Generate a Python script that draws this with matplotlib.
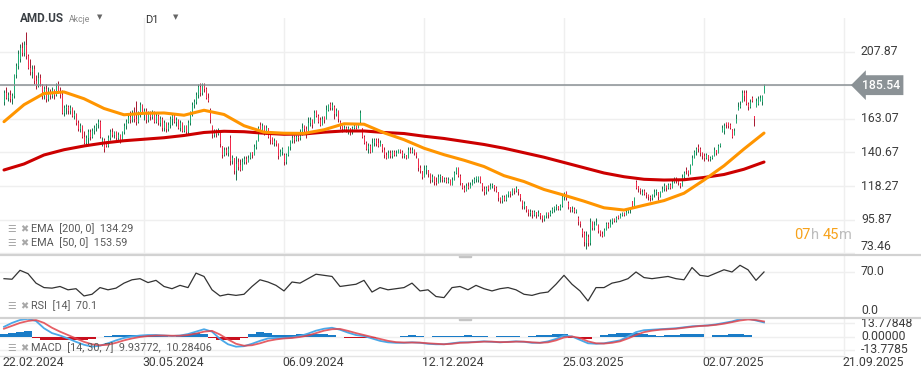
import matplotlib
matplotlib.use('Agg')
import matplotlib.pyplot as plt
import numpy as np
from matplotlib import transforms
from matplotlib.patches import Rectangle
from matplotlib.lines import Line2D

plt.rcParams['font.family'] = ['Roboto', 'DejaVu Sans']

# ---- daily candles (bar index 0 = 22.02.2024) ----
opens = [174,180,177,179,176,178,192,198,203,210,
         207,212,205,197,194,196,188,185,190,186,
         178,183,176,181,178,182,179,185,181,179,
         167,170,171,168,170,165,166,160,156,158,
         151,147,150,154,151,155,157,159,161,147,
         149,146,145,150,154,152,154,150,152,149,
         154,158,161,164,162,166,163,161,166,172,
         167,168,162,166,164,167,161,165,160,163,
         157,160,156,159,163,165,161,162,157,160,
         155,158,154,160,166,172,174,179,184,180,
         185,183,177,169,158,152,155,153,154,145,
         139,142,140,150,135,137,128,134,132,129,
         134,136,134,137,141,139,144,148,159,155,
         158,155,157,152,150,147,148,146,138,141,
         139,134,139,144,148,151,149,151,150,154,
         158,156,155,160,162,160,168,165,162,159,
         164,163,169,173,170,171,166,168,161,158,
         156,157,155,157,154,157,158,157,161,157,
         151,147,143,145,141,147,149,147,145,146,
         142,139,137,140,138,141,139,140,142,141,
         138,139,137,142,141,142,140,136,130,128,
         124,129,129,126,122,124,121,120,124,125,
         122,123,121,122,119,122,127,130,125,120,
         117,115,118,117,119,121,123,122,124,120,
         116,114,118,116,118,119,117,114,110,108,
         111,109,112,114,113,116,115,116,113,108,
         104,105,102,100,101,99,101,99,100,98,
         96,98,100,99,101,103,104,105,103,105,
         111,114,107,104,102,103,101,97,94,89,
         87,80,84,80,94,90,92,92,88,86,
         85,89,93,91,94,96,95,98,97,99,
         100,99,101,102,108,105,121,118,116,113,
         115,113,112,111,110,112,114,114,111,114,
         116,118,117,119,117,121,123,122,120,118,
         124,129,128,126,132,137,141,144,143,140,
         138,137,139,136,137,138,142,140,145,154,
         155,160,160,159,156,152,160,169,171,174,
         180,180,173,171,177,165,171,173,175,174,
         180]
highs = [182,184,181,182,180,193,200,209,213,214,
         215,221,206,203,199,199,192,194,193,186,
         185,186,184,183,184,183,187,188,184,182,
         172,173,172,172,171,169,167,162,160,159,
         155,152,156,156,157,159,160,163,162,151,
         150,148,152,156,157,155,155,154,153,155,
         160,163,166,168,169,171,175,168,174,173,
         170,170,168,168,169,168,167,166,165,164,
         162,161,161,165,166,166,164,163,162,161,
         159,159,162,168,174,176,181,186,187,187,
         187,184,180,170,159,156,156,157,154,145,
         144,144,145,152,139,137,138,137,136,137,
         138,138,139,141,141,146,149,158,161,160,
         159,159,157,153,151,150,149,147,143,144,
         140,140,145,149,152,152,152,152,156,160,
         159,158,164,164,163,169,169,166,164,165,
         165,172,173,174,174,172,170,169,162,159,
         159,158,158,157,158,160,159,160,169,157,
         152,148,147,146,150,150,150,150,149,146,
         144,141,142,142,142,142,142,143,143,142,
         140,139,144,144,144,143,141,137,132,128,
         132,132,129,127,126,125,124,126,126,125,
         124,124,124,123,124,128,131,131,126,120,
         119,120,121,121,123,124,125,125,125,120,
         118,118,119,120,120,119,118,114,111,112,
         112,113,115,115,117,117,118,116,113,109,
         108,105,103,103,102,102,101,102,100,99,
         99,101,101,102,104,105,106,105,106,113,
         114,115,108,104,105,104,103,98,95,90,
         88,88,86,97,95,95,97,93,89,88,
         90,94,94,96,97,97,98,99,100,101,
         101,103,103,103,108,111,122,118,117,116,
         116,114,113,112,113,116,116,114,115,118,
         120,119,120,120,123,124,124,122,120,126,
         128,131,129,133,139,142,144,146,144,141,
         140,140,139,138,139,144,142,146,147,159,
         160,161,161,160,156,157,166,174,175,182,
         182,182,174,176,178,165,177,178,179,179,
         186]
lows = [172,176,175,174,173,177,190,196,201,205,
        205,203,196,192,190,186,183,184,185,176,
        176,174,175,176,177,176,178,180,177,166,
        165,166,166,166,164,163,159,155,154,150,
        146,145,146,149,150,153,155,157,150,145,
        141,144,144,149,151,150,149,148,147,148,
        153,156,160,160,161,161,159,160,164,166,
        162,160,161,162,163,160,160,159,158,155,
        155,154,155,157,159,160,158,156,155,154,
        154,153,153,159,165,170,173,177,178,179,
        181,176,174,160,150,151,151,152,144,137,
        138,139,138,132,133,126,122,129,128,129,
        133,133,134,136,137,139,143,148,154,154,
        152,153,150,146,146,145,145,136,138,139,
        132,133,138,142,147,147,148,148,149,152,
        153,150,155,158,157,160,164,160,158,159,
        160,163,168,169,169,163,165,161,156,154,
        155,154,153,152,153,156,156,157,160,150,
        146,142,140,140,141,145,145,144,145,141,
        137,136,137,137,137,138,138,140,140,137,
        137,136,137,140,140,139,137,128,127,123,
        124,126,124,120,121,119,119,120,121,121,
        121,120,120,119,119,122,126,124,119,116,
        114,115,116,117,119,120,121,121,120,115,
        112,113,115,116,117,115,114,108,107,107,
        108,108,111,111,112,113,114,112,108,103,
        103,101,98,98,97,98,97,98,96,94,
        95,97,97,98,100,101,102,102,102,104,
        109,109,103,101,101,100,100,92,91,84,
        78,76,78,79,89,89,92,87,85,84,
        85,89,90,91,93,94,94,96,97,98,
        98,99,100,100,104,104,116,114,113,112,
        112,110,109,108,109,111,112,109,111,114,
        115,115,116,116,117,120,120,119,117,118,
        123,126,125,126,132,137,139,141,138,136,
        135,136,135,135,136,138,139,140,144,154,
        153,157,157,156,150,152,160,169,170,174,
        175,172,169,170,174,158,171,172,175,172,
        180]
closes = [180,177,179,176,178,192,198,206,210,207,
          212,205,197,194,196,188,185,190,186,178,
          183,176,181,178,182,179,185,181,179,167,
          170,171,168,170,165,166,160,156,158,151,
          147,150,154,151,155,157,159,161,151,149,
          143,145,150,154,152,154,150,152,149,154,
          158,161,164,162,166,163,161,166,172,167,
          168,162,166,164,167,161,165,160,163,157,
          160,156,159,163,165,161,162,157,160,155,
          158,154,160,166,172,174,179,184,180,185,
          183,177,175,162,152,155,153,155,146,139,
          142,140,143,135,137,128,133,131,129,134,
          136,134,137,140,139,144,148,157,155,158,
          155,157,151,149,147,148,146,138,141,143,
          134,139,144,148,150,149,151,150,154,157,
          156,153,160,162,159,167,165,161,159,163,
          162,169,172,170,172,166,168,163,158,156,
          157,155,157,154,157,158,157,159,167,151,
          147,143,145,141,147,149,146,145,147,142,
          139,137,140,138,141,139,140,142,141,138,
          139,137,142,141,142,140,138,130,128,124,
          129,131,126,122,124,121,120,124,125,122,
          123,121,122,119,122,127,130,125,120,117,
          115,118,117,119,121,123,124,124,121,116,
          114,117,116,118,119,117,115,110,108,111,
          109,112,114,113,116,115,117,114,110,105,
          106,102,100,101,99,101,99,100,98,96,
          98,100,99,101,103,104,105,103,105,111,
          112,110,104,102,103,101,102,94,93,86,
          81,85,80,94,90,92,94,88,86,85,
          89,93,91,94,96,95,97,97,99,100,
          99,101,102,103,105,110,117,116,115,114,
          113,112,111,110,112,114,115,111,114,116,
          118,117,119,117,121,123,122,120,118,124,
          127,128,126,132,137,141,143,143,140,138,
          137,139,136,137,138,142,140,145,146,157,
          158,159,158,157,151,155,163,171,172,180,
          178,173,171,174,175,163,175,176,177,178,
          185.54]

# EMA lines, every 10 bars
ema200 = [129.0,133.0,139.0,142.5,145.0,147.0,148.5,149.5,150.5,152.0,
          154.0,154.8,154.5,153.5,152.8,153.0,154.2,155.0,155.0,154.0,
          153.3,151.5,150.0,148.0,146.0,143.5,140.5,137.5,134.0,130.5,
          127.0,124.5,122.8,122.3,122.5,124.0,126.0,129.5,134.3]
ema50 = [161.2,172.5,180.0,181.0,176.5,170.0,165.8,166.8,167.0,165.5,
         168.8,166.0,158.5,154.2,153.5,153.4,155.8,159.8,159.5,153.8,
         149.2,143.5,139.2,135.5,131.3,125.2,121.3,116.0,112.2,108.2,
         103.8,102.3,105.5,108.6,113.5,122.3,131.8,143.0,153.6]

# RSI, every 4 bars
rsi = [58,57,73,67,50,42,41,44,38,40,
       27,30,42,38,41,50,56,58,51,55,
       44,40,46,42,68,62,38,27,30,28,
       30,44,56,52,46,36,52,50,58,66,
       64,62,44,46,48,55,34,42,38,40,
       42,50,36,38,26,24,42,44,38,46,
       40,36,40,42,38,30,28,32,34,48,
       64,48,36,18,42,42,50,53,58,70,
       60,58,60,62,58,56,78,64,62,68,
       74,70,82,74,55,70]

# MACD, every 4 bars
macd = [10,14,17,18.2,16,8.5,3.5,1,-2,-5.5,
        -8.5,-10.5,-9.5,-7,-4,-1.5,0,1,1.5,1.5,
        1,0.5,1,2.5,5,7.5,5,-2.5,-8,-10.5,
        -10,-7.5,-4.5,-2,-1.5,-1.5,-1,0.5,3,6,
        8,9,7,4,1.5,0.5,-2,-4.5,-6,-6.5,
        -6.5,-6,-6.5,-7.5,-8,-8,-7,-6,-6,-5.5,
        -5,-5.5,-6,-5.5,-5,-5.5,-6.5,-6.5,-5,-2.5,
        1,0,-3.5,-7,-7.5,-7,-5.5,-4,0,4.5,
        6.5,7,7.5,8,8.5,9.5,10.5,11,11.5,12.5,
        14,15.5,18,18.5,16.5,14.5]
signal = [8,11,14,16,17,14,9,5,1.5,-2,
          -5.5,-8,-9,-8.5,-6.5,-4,-2,-0.5,0.5,1,
          1,0.8,0.8,1.5,3,5,5.8,2,-3,-7.5,
          -9.5,-9,-7,-4.5,-3,-2,-1.5,-0.5,1,3.5,
          6,7.5,7.8,5.8,3.5,1.5,-0.5,-2.5,-4.5,-5.8,
          -6.2,-6.2,-6.3,-7,-7.5,-8,-7.5,-6.5,-6.2,-5.8,
          -5.3,-5.3,-5.8,-5.7,-5.3,-5.3,-6,-6.5,-6,-4,
          -1,0,-1.5,-5,-7,-7.3,-6.5,-5,-2,1.5,
          4.5,6,7,7.5,8,9,10,10.8,11.2,12,
          13.2,14.8,16.5,17.5,17,15.5]
hist = [3,4,5,5.5,-2,-3.5,-3.8,-3.8,-3.5,-3.5,
        -3.2,-2.5,-1,0.8,1.2,1.5,1.5,1.2,1.2,1.5,
        1.2,-0.5,1.8,2.5,3.2,3,-1.5,-3.8,-4,-3.5,
        -2,2.5,4.5,3.5,2,1.5,2,2.2,2.5,3,
        2.5,1.8,-1,-2,-2,-1.5,-1.8,-1,-0.5,-0.3,
        0.8,1.5,0.6,-0.4,1,1,0.5,0.6,1.2,0.5,
        0.8,-0.3,0.6,1,0.5,-0.4,0.5,1.2,2,2.8,
        2.5,-1.5,-3,-3,-1,1.5,3,3.5,3.5,3.5,
        3,2,1,1.5,2,2.2,3,3,-0.8,1.5,
        1.5,2.2,2.5,1.5,-1,-1]

date_labels = ['22.02.2024', '30.05.2024', '06.09.2024', '12.12.2024',
               '25.03.2025', '02.07.2025', '21.09.2025']
date_bars = [0, 70, 140, 210, 280, 350, 420]
price_ticks = [207.87, 185.47, 163.07, 140.67, 118.27, 95.87, 73.46]
price_labels = ['207.87', '', '163.07', '140.67', '118.27', '95.87', '73.46']
last_price = 185.54

W, H = 921, 380
fig = plt.figure(figsize=(W / 100, H / 100), dpi=100)

def px_axes(x0, y0, x1, y1):
    ax = fig.add_axes([x0 / W, 1 - y1 / H, (x1 - x0) / W, (y1 - y0) / H])
    ax.set_axis_off()
    ax.set_xlim(-2, 425.5)
    return ax

GRID = '#efefef'
TXT = '#3c3c3c'
FS = 8.8

ax = px_axes(0, 18, 855, 254)
ax_rsi = px_axes(0, 255, 855, 317)
ax_macd = px_axes(0, 318, 855, 355)
ax.set_ylim(73.0, 230.3)
ax_rsi.set_ylim(-10.8, 100.5)
ax_macd.set_ylim(-19.07, 19.07)

for a in (ax, ax_rsi, ax_macd):
    for b in date_bars[1:]:
        a.axvline(b, color=GRID, lw=1, zorder=0)

# price panel
for t, lab in zip(price_ticks, price_labels):
    ax.axhline(t, color=GRID, lw=1, zorder=0)
    if lab:
        ax.text(1.007, t, lab, transform=ax.get_yaxis_transform(), fontsize=FS,
                color=TXT, va='bottom' if t < 80 else 'center', ha='left')

O = np.array(opens, float); Hh = np.array(highs, float)
L = np.array(lows, float); C = np.array(closes, float)
xb = np.arange(len(C))
up = C >= O
wick_c = np.where(up, '#14724d', '#a5172f')
body_c = np.where(up, '#1fab72', '#f2294a')
ax.vlines(xb, L, Hh, colors=wick_c, lw=0.7, zorder=2)
body = np.where(np.abs(C - O) < 0.6, 0.6, C - O)
ax.bar(xb, body, bottom=O, width=0.5, color=body_c, lw=0, zorder=3)

ema_x = np.arange(len(ema50)) * 10
ax.plot(ema_x, ema200, color='#cc0000', lw=2.2, zorder=4, solid_capstyle='round')
ax.plot(ema_x, ema50, color='#ff9500', lw=2.2, zorder=5, solid_capstyle='round')

ax.axhline(last_price, color='#8a9094', lw=1.1, zorder=6)
ax.text(1.008, last_price, '185.54', transform=ax.get_yaxis_transform(), fontsize=FS,
        color='white', va='center', ha='left', fontweight='medium',
        bbox=dict(boxstyle='larrow,pad=0.28', fc='#8b9296', ec='none'))

# countdown
tf = fig.transFigure
for xp, s, c in [(794, '07', '#f7a21b'), (811, 'h', '#bdbdbd'),
                 (823, '45', '#f7a21b'), (839, 'm', '#bdbdbd')]:
    fig.text(xp / W, 1 - 235 / H, s, fontsize=10.5, color=c, va='center', ha='left')

# RSI panel
ax_rsi.axhline(70, color=GRID, lw=1, zorder=0)
rsi_x = np.arange(len(rsi)) * 4
ax_rsi.plot(rsi_x, rsi, color='#333333', lw=0.9)
for v, lab in [(70, '70.0'), (0, '0.0')]:
    ax_rsi.text(1.007, v, lab, transform=ax_rsi.get_yaxis_transform(), fontsize=FS,
                color=TXT, va='center', ha='left')

# MACD panel
for v in (13.77848, 0, -13.77848):
    ax_macd.axhline(v, color=GRID, lw=1, zorder=0)
mx = np.arange(len(macd)) * 4
hv = np.array(hist)
ax_macd.bar(mx, hv, width=4, color=np.where(hv >= 0, '#1a7cc7', '#c80f1e'), lw=0, zorder=2)
ax_macd.plot(mx, macd, color='#4aa8e8', lw=1.3, zorder=3)
ax_macd.plot(mx, signal, color='#e2434b', lw=1.3, alpha=0.85, zorder=4)
for v, lab in [(13.77848, '13.77848'), (0, '0.00000'), (-13.77848, '-13.7785')]:
    ax_macd.text(1.007, v, lab, transform=ax_macd.get_yaxis_transform(), fontsize=FS,
                 color=TXT, va='center', ha='left')

# date labels
bt = transforms.blended_transform_factory(ax_macd.transData, fig.transFigure)
for b, lab in zip(date_bars, date_labels):
    ax_macd.text(b - 0.8, 1 - 362 / H, lab, transform=bt, fontsize=FS, color=TXT,
                 va='center', ha='left')

# separators
for yp in (254.5, 317.5):
    fig.add_artist(Line2D([0, 1], [1 - yp / H] * 2, transform=tf, color='#d2d2d2', lw=1.6))
    fig.add_artist(Rectangle((459 / W, 1 - (yp + 2.5) / H), 12 / W, 2.5 / H,
                             transform=tf, color='#c4c4c4'))
fig.add_artist(Line2D([0, 845 / W], [1 - 355.5 / H] * 2, transform=tf, color='#e4e4e4', lw=1))

# indicator captions
def caption(yp, s):
    fig.text(7 / W, 1 - yp / H, '\u2630', fontsize=7, color='#a8a8a8', va='center',
             family=['DejaVu Sans'])
    fig.text(20 / W, 1 - yp / H, '\u2716', fontsize=7, color='#a8a8a8', va='center',
             family=['DejaVu Sans'])
    fig.text(31 / W, 1 - yp / H, s, fontsize=7.8, color='#5a5a5a', va='center')

caption(229, 'EMA  [200, 0]  134.29')
caption(243, 'EMA  [50, 0]  153.59')
caption(306, 'RSI  [14]  70.1')
caption(348, 'MACD  [14, 30, 7]  9.93772,  10.28406')

# header
fig.text(20 / W, 1 - 18 / H, 'AMD.US', fontsize=8.5, fontweight='bold', color='#3a3f44', va='center')
fig.text(69 / W, 1 - 19 / H, 'Akcje', fontsize=6.3, color='#8a8a8a', va='center')
fig.text(97 / W, 1 - 17 / H, '\u25bc', fontsize=5, color='#666666', va='center', family=['DejaVu Sans'])
fig.text(145 / W, 1 - 20 / H, 'D1', fontsize=8, color='#333333', va='center')
fig.text(173 / W, 1 - 17 / H, '\u25bc', fontsize=5, color='#666666', va='center', family=['DejaVu Sans'])

fig.savefig('out.png', dpi=100, facecolor='white')
